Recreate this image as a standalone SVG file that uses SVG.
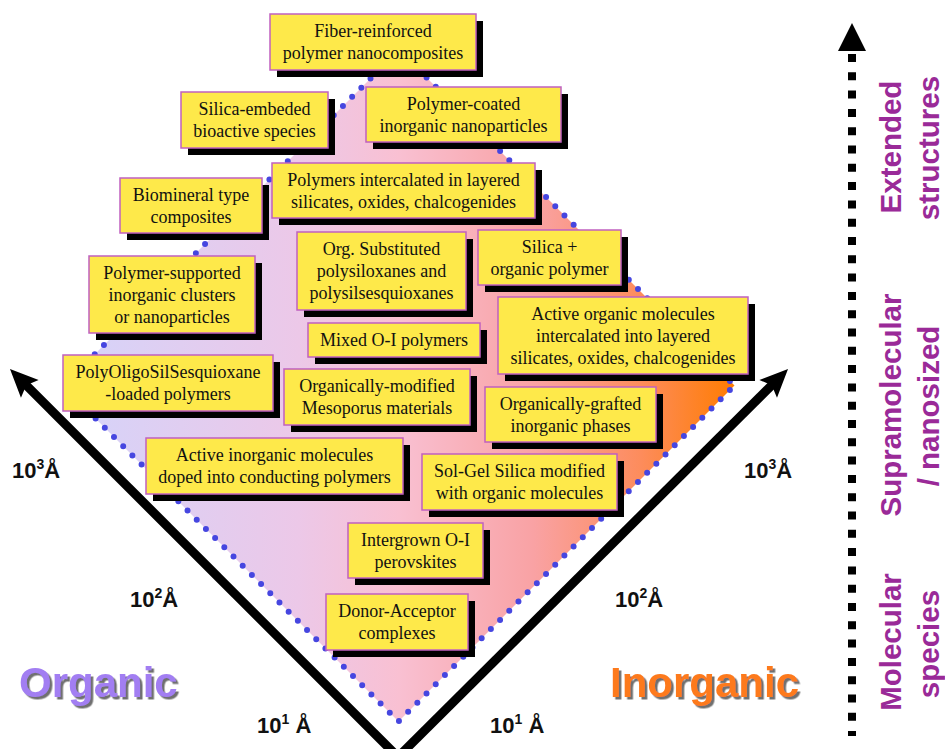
<svg xmlns="http://www.w3.org/2000/svg" width="945" height="749" viewBox="0 0 945 749">
<defs>
<linearGradient id="fillGrad" gradientUnits="userSpaceOnUse" x1="63" y1="0" x2="735" y2="0">
<stop offset="0" stop-color="#d4d4fa"/>
<stop offset="0.35" stop-color="#ecc8e8"/>
<stop offset="0.5" stop-color="#f9c0d2"/>
<stop offset="0.7" stop-color="#f9a2a4"/>
<stop offset="0.86" stop-color="#fd8c5c"/>
<stop offset="1" stop-color="#ff7c00"/>
</linearGradient>
<filter id="grayShadow" x="-5%" y="-20%" width="115%" height="150%">
<feDropShadow dx="2.5" dy="2.5" stdDeviation="0.6" flood-color="#707070" flood-opacity="1"/>
</filter>
<marker id="bigHead" viewBox="-30 -14 32 28" markerWidth="32" markerHeight="28" refX="-15" refY="0" orient="auto" markerUnits="userSpaceOnUse">
<path d="M0,0 L-28,-12.5 L-23,0 L-28,12.5 Z" fill="#000"/>
</marker>
<style>
.shadow{fill:#000}
.box{fill:#fee94a;stroke:#c060c0;stroke-width:1.5}
.lbl{font-family:"Liberation Serif","Times New Roman",serif;font-size:18px;fill:#111;text-anchor:middle}
.scale{font-family:"Liberation Sans",Arial,sans-serif;font-weight:bold;font-size:22px;fill:#111}
.big{font-family:"Liberation Sans",Arial,sans-serif;font-weight:bold;font-size:42px;filter:url(#grayShadow)}
.side{font-family:"Liberation Sans",Arial,sans-serif;font-weight:bold;font-size:29.5px;fill:#9a2a98;text-anchor:middle}
.axis{stroke:#000;stroke-width:9;fill:none}
</style>
</defs>
<rect width="945" height="749" fill="#fff"/>

<!-- diamond region -->
<polygon id="region" points="399,50 734.5,385.5 398.5,721.5 63,386" fill="url(#fillGrad)" stroke="#4646e0" stroke-width="6" stroke-linecap="round" stroke-dasharray="0 13"/>

<!-- connectors / axes -->
<g id="connectors">
<line class="axis" x1="398" y1="757" x2="20.6" y2="379.6" marker-end="url(#bigHead)"/>
<line class="axis" x1="398" y1="757" x2="777.4" y2="379.6" marker-end="url(#bigHead)"/>
<line x1="852" y1="54" x2="852" y2="736" stroke="#000" stroke-width="8" stroke-dasharray="8 10.3"/>
<polygon points="852,23 866,51 838,51" fill="#000"/>
</g>

<!-- boxes -->
<g id="n1"><rect class="shadow" x="277" y="21" width="206" height="56"/><rect class="box" x="270" y="14" width="206" height="56"/><text class="lbl" x="373" y="37">Fiber-reinforced</text><text class="lbl" x="373" y="59">polymer nanocomposites</text></g>
<g id="n2"><rect class="shadow" x="188" y="99" width="147" height="56"/><rect class="box" x="181" y="92" width="147" height="56"/><text class="lbl" x="254.5" y="115">Silica-embeded</text><text class="lbl" x="254.5" y="137">bioactive species</text></g>
<g id="n3"><rect class="shadow" x="373" y="94" width="195" height="55"/><rect class="box" x="366" y="87" width="195" height="55"/><text class="lbl" x="463.5" y="110">Polymer-coated</text><text class="lbl" x="463.5" y="132">inorganic nanoparticles</text></g>
<g id="n4"><rect class="shadow" x="127" y="185" width="142" height="55"/><rect class="box" x="120" y="178" width="142" height="55"/><text class="lbl" x="191" y="201">Biomineral type</text><text class="lbl" x="191" y="223">composites</text></g>
<g id="n5"><rect class="shadow" x="279" y="170" width="263" height="55"/><rect class="box" x="272" y="163" width="263" height="55"/><text class="lbl" x="403.5" y="186">Polymers intercalated in layered</text><text class="lbl" x="403.5" y="208">silicates, oxides, chalcogenides</text></g>
<g id="n6"><rect class="shadow" x="304" y="239" width="169" height="78"/><rect class="box" x="297" y="232" width="169" height="78"/><text class="lbl" x="381.5" y="255">Org. Substituted</text><text class="lbl" x="381.5" y="277">polysiloxanes and</text><text class="lbl" x="381.5" y="299">polysilsesquioxanes</text></g>
<g id="n7"><rect class="shadow" x="485" y="237" width="143" height="55"/><rect class="box" x="478" y="230" width="143" height="55"/><text class="lbl" x="549.5" y="253">Silica +</text><text class="lbl" x="549.5" y="275">organic polymer</text></g>
<g id="n8"><rect class="shadow" x="96" y="263" width="166" height="77"/><rect class="box" x="89" y="256" width="166" height="77"/><text class="lbl" x="172" y="279">Polymer-supported</text><text class="lbl" x="172" y="301">inorganic clusters</text><text class="lbl" x="172" y="323">or nanoparticles</text></g>
<g id="n9"><rect class="shadow" x="505" y="304" width="250" height="77"/><rect class="box" x="498" y="297" width="250" height="77"/><text class="lbl" x="623" y="320">Active organic molecules</text><text class="lbl" x="623" y="342">intercalated into layered</text><text class="lbl" x="623" y="364">silicates, oxides, chalcogenides</text></g>
<g id="n10"><rect class="shadow" x="315" y="330" width="172" height="34"/><rect class="box" x="308" y="323" width="172" height="34"/><text class="lbl" x="394" y="346">Mixed O-I polymers</text></g>
<g id="n11"><rect class="shadow" x="70" y="362" width="210" height="56"/><rect class="box" x="63" y="355" width="210" height="56"/><text class="lbl" x="168" y="378">PolyOligoSilSesquioxane</text><text class="lbl" x="168" y="400">-loaded polymers</text></g>
<g id="n12"><rect class="shadow" x="291" y="376" width="186" height="56"/><rect class="box" x="284" y="369" width="186" height="56"/><text class="lbl" x="377" y="392">Organically-modified</text><text class="lbl" x="377" y="414">Mesoporus materials</text></g>
<g id="n13"><rect class="shadow" x="492" y="394" width="171" height="55"/><rect class="box" x="485" y="387" width="171" height="55"/><text class="lbl" x="570.5" y="410">Organically-grafted</text><text class="lbl" x="570.5" y="432">inorganic phases</text></g>
<g id="n14"><rect class="shadow" x="153" y="445" width="257" height="56"/><rect class="box" x="146" y="438" width="257" height="56"/><text class="lbl" x="274.5" y="461">Active inorganic molecules</text><text class="lbl" x="274.5" y="483">doped into conducting polymers</text></g>
<g id="n15"><rect class="shadow" x="429" y="461" width="195" height="56"/><rect class="box" x="422" y="454" width="195" height="56"/><text class="lbl" x="519.5" y="477">Sol-Gel Silica modified</text><text class="lbl" x="519.5" y="499">with organic molecules</text></g>
<g id="n16"><rect class="shadow" x="355" y="530" width="135" height="55"/><rect class="box" x="348" y="523" width="135" height="55"/><text class="lbl" x="415.5" y="546">Intergrown O-I</text><text class="lbl" x="415.5" y="568">perovskites</text></g>
<g id="n17"><rect class="shadow" x="333" y="601" width="142" height="56"/><rect class="box" x="326" y="594" width="142" height="56"/><text class="lbl" x="397" y="617">Donor-Acceptor</text><text class="lbl" x="397" y="639">complexes</text></g>

<!-- scale labels -->
<g id="scales">
<text class="scale" x="12" y="478">10<tspan font-size="14" dy="-9">3</tspan><tspan dy="9">Å</tspan></text>
<text class="scale" x="130" y="607">10<tspan font-size="14" dy="-9">2</tspan><tspan dy="9">Å</tspan></text>
<text class="scale" x="257" y="733">10<tspan font-size="14" dy="-9">1</tspan><tspan dy="9"> Å</tspan></text>
<text class="scale" x="744" y="478">10<tspan font-size="14" dy="-9">3</tspan><tspan dy="9">Å</tspan></text>
<text class="scale" x="615" y="607">10<tspan font-size="14" dy="-9">2</tspan><tspan dy="9">Å</tspan></text>
<text class="scale" x="490" y="733">10<tspan font-size="14" dy="-9">1</tspan><tspan dy="9"> Å</tspan></text>
</g>

<!-- Organic / Inorganic -->
<g id="organic">
<text class="big" x="19" y="697" fill="#a27ef2">Organic</text>
</g>
<g id="inorganic">
<text class="big" x="610" y="697" fill="#fd7a1e">Inorganic</text>
</g>

<!-- side labels -->
<g id="side-extended">
<text class="side" transform="translate(901,147) rotate(-90)">Extended</text>
<text class="side" transform="translate(939,148) rotate(-90)">structures</text>
</g>
<g id="side-supra">
<text class="side" transform="translate(901,405) rotate(-90)">Supramolecular</text>
<text class="side" transform="translate(939,406) rotate(-90)">/ nanosized</text>
</g>
<g id="side-molecular">
<text class="side" transform="translate(901,642) rotate(-90)">Molecular</text>
<text class="side" transform="translate(939,644) rotate(-90)">species</text>
</g>
</svg>
